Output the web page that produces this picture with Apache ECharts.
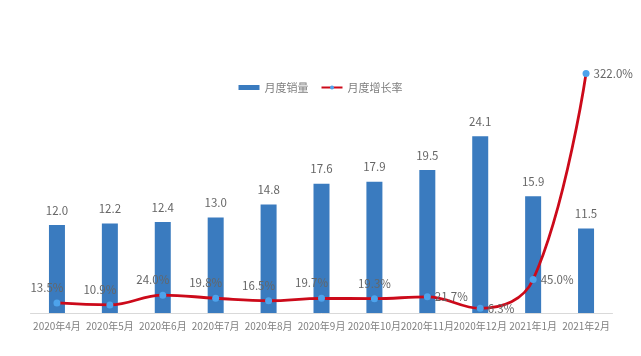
<!DOCTYPE html>
<html><head><meta charset="utf-8">
<script src="https://cdn.jsdelivr.net/npm/echarts@6/dist/echarts.min.js"></script>
<style>html,body{margin:0;padding:0;background:#fff}#c{width:641px;height:356px}</style>
</head><body><div id="c"></div>
<script>
const categories = ['2020年4月','2020年5月','2020年6月','2020年7月','2020年8月','2020年9月','2020年10月','2020年11月','2020年12月','2021年1月','2021年2月'];
const sales = [12.0,12.2,12.4,13.0,14.8,17.6,17.9,19.5,24.1,15.9,11.5];
const growth = [13.5,10.9,24.0,19.8,16.5,19.7,19.3,21.7,6.3,45.0,322.0];
const labelPos = ['topLeft','topLeft','topLeft','topLeft','topLeft','topLeft','top','right','right','right','right'];

const font = '"Noto Sans CJK SC", "Liberation Sans", sans-serif';
const growthData = growth.map((v,i)=>{
  const p = labelPos[i];
  let label;
  if (p === 'topLeft') label = {position:'top', offset:[-10,-1]};
  else if (p === 'top') label = {position:'top', offset:[0,-1]};
  else label = {position:'right', distance:4};
  return {value:v, label};
});

const chart = echarts.init(document.getElementById('c'));
chart.setOption({
  animation:false,
  textStyle:{fontFamily:font},
  legend:{
    top:77, left:'center', itemGap:12, itemWidth:21, itemHeight:5,
    textStyle:{color:'#7f7f7f', fontSize:11, fontFamily:font},
    data:[{name:'月度销量', icon:'rect'}, {name:'月度增长率'}]
  },
  grid:{left:30.5, right:28.5, top:40, bottom:43},
  xAxis:{
    type:'category', data:categories,
    axisLine:{lineStyle:{color:'#d9d9d9'}},
    axisTick:{show:false},
    axisLabel:{color:'#808080', fontSize:10, margin:8, fontFamily:font, interval:0}
  },
  yAxis:[
    {type:'value', min:0, max:37.2, show:false, splitLine:{show:false}},
    {type:'value', min:0, max:367, show:false, splitLine:{show:false}}
  ],
  series:[
    {
      name:'月度销量', type:'bar', data:sales, barWidth:16,
      itemStyle:{color:'#3a7bbf'},
      label:{show:true, position:'top', distance:9, color:'#666666', fontSize:11.5, fontFamily:font,
        formatter:p=>p.value.toFixed(1)}
    },
    {
      name:'月度增长率', type:'line', yAxisIndex:1, data:growthData, smooth:0.4,
      symbol:'circle', symbolSize:7,
      lineStyle:{color:'#cc0a1a', width:2.8},
      itemStyle:{color:'#4da3ec'},
      label:{show:true, color:'#666666', fontSize:11.5, fontFamily:font,
        formatter:p=>p.value.toFixed(1)+'%'},
      z:3
    }
  ]
});
</script></body></html>
